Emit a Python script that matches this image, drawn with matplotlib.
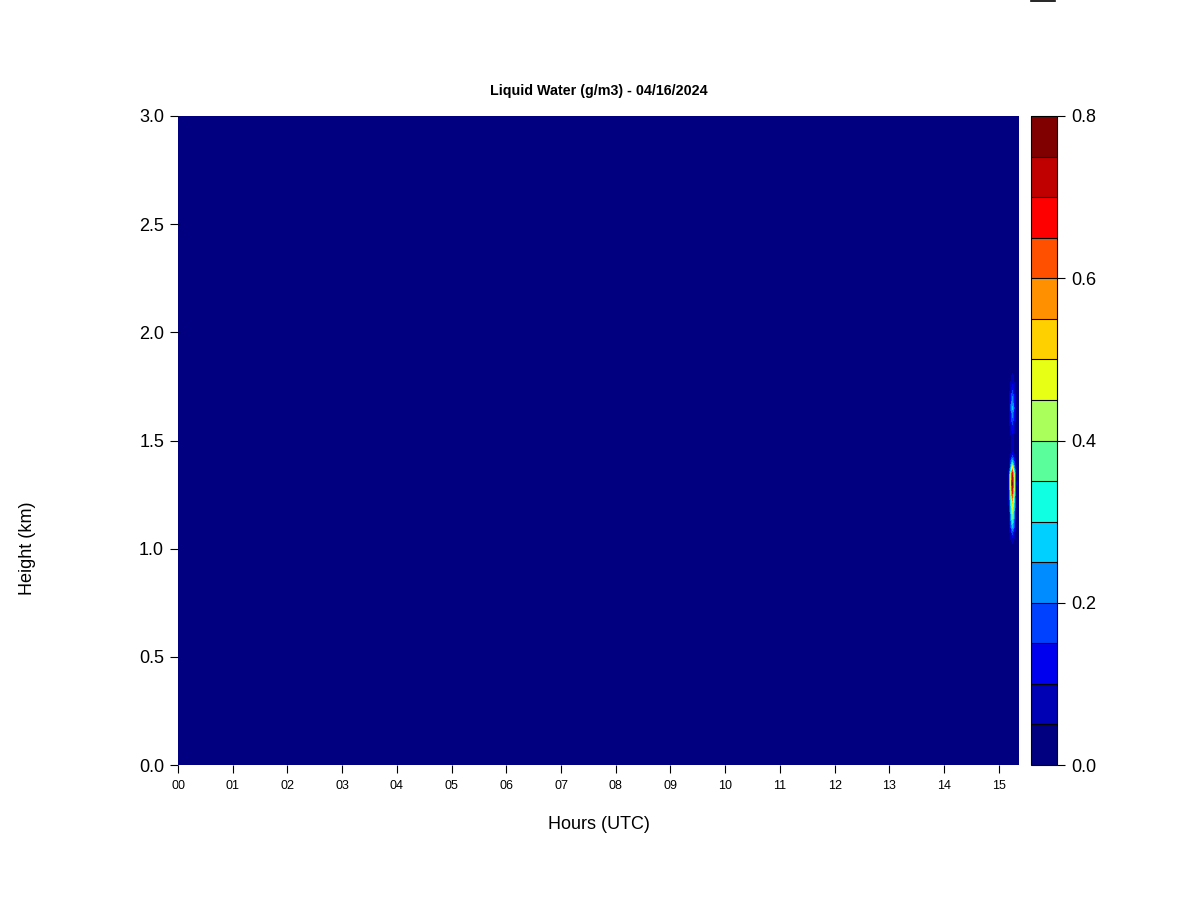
import numpy as np
import matplotlib.pyplot as plt
from matplotlib.colors import ListedColormap, BoundaryNorm
from matplotlib.lines import Line2D

plt.rcParams['font.family'] = ['Liberation Sans', 'DejaVu Sans']

# data grid (hours UTC, km); values in g/m3, zero outside the one cloudy profile
times = [0.0, 15.18, 15.25, 15.32, 15.37]
heights = [0.0, 1.00, 1.05, 1.10, 1.15, 1.20, 1.25, 1.30, 1.35, 1.40, 1.45,
           1.50, 1.55, 1.60, 1.65, 1.70, 1.75, 1.80, 1.85, 3.0]
profile = [0.0, 0.0, 0.10, 0.26, 0.38, 0.48, 0.64, 0.76, 0.68, 0.28, 0.07,
           0.06, 0.12, 0.19, 0.26, 0.21, 0.11, 0.06, 0.0, 0.0]
cloud_time = 15.25

levels = np.arange(0, 0.85, 0.05)
colors = ['#000080', '#0000B4', '#0000EE', '#0040FF', '#008CFF', '#00D0FF',
          '#10FFE2', '#5AFF9C', '#AAFF5A', '#E6FF14', '#FFD000', '#FF9000',
          '#FF5000', '#FF0000', '#C00000', '#800000']

z = np.zeros((len(heights), len(times)))
z[:, times.index(cloud_time)] = profile

fig = plt.figure(figsize=(12, 9), dpi=100)
ax = fig.add_axes([178 / 1200, 135 / 900, 841 / 1200, 649 / 900])
cmap = ListedColormap(colors)
norm = BoundaryNorm(levels, cmap.N)
cs = ax.contourf(times, heights, z, levels=levels, cmap=cmap, norm=norm)

ax.set_xlim(0, 15.37)
ax.set_ylim(0, 3.0)
for s in ax.spines.values():
    s.set_visible(False)
ax.set_xticks(range(16))
ax.set_xticklabels(['%02d' % h for h in range(16)], fontsize=9)
ax.set_yticks(np.arange(0, 3.01, 0.5))
ax.set_yticklabels(['%.1f' % v for v in np.arange(0, 3.01, 0.5)], fontsize=13)
ax.tick_params(axis='both', length=6, width=0.8, direction='out')
ax.tick_params(axis='x', pad=5)
ax.tick_params(axis='y', pad=4)
ax.set_xlabel('Hours (UTC)', fontsize=13, labelpad=17)
ax.set_title('Liquid Water (g/m3) - 04/16/2024', fontsize=10.3,
             fontweight='bold', pad=15)
fig.text(28 / 1200, 1 - 548 / 900, 'Height (km)', rotation=90,
         ha='center', va='center', fontsize=13)

cax = fig.add_axes([1031 / 1200, 135 / 900, 26 / 1200, 649 / 900])
cb = fig.colorbar(cs, cax=cax)
cb.outline.set_linewidth(0.8)
for lv in levels[1:-1]:
    cax.axhline(lv, color='black', lw=0.8)
cb.set_ticks([0.0, 0.2, 0.4, 0.6, 0.8])
cb.ax.set_yticklabels(['0.0', '0.2', '0.4', '0.6', '0.8'], fontsize=13)
cb.ax.tick_params(length=6, width=0.8, pad=4)
cb.ax.minorticks_off()

# small stray mark at the top edge
fig.add_artist(Line2D([1031 / 1200, 1055 / 1200], [0.999, 0.999],
                      color='black', lw=1.2))

fig.savefig('out.png', dpi=100)
